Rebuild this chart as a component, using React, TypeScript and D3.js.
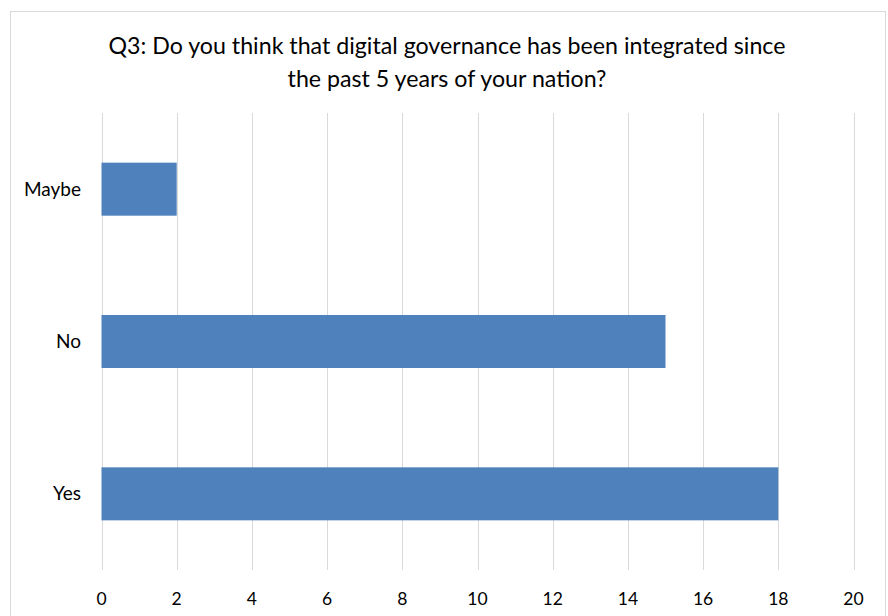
import React from "react";
import * as d3 from "d3";

const categories = ["Maybe", "No", "Yes"];
const values = [2, 15, 18];
const xTicks = [0, 2, 4, 6, 8, 10, 12, 14, 16, 18, 20];
const titleLines = [
  "Q3: Do you think that digital governance has been integrated since",
  "the past 5 years of your nation?",
];

const W = 888;
const H = 616;
const left = 101.5;
const right = 853.5;
const top = 113;
const bottom = 570;
const font = "Lato, 'Open Sans', sans-serif";

export default function App() {
  const x = d3.scaleLinear().domain([0, 20]).range([left, right]);
  const y = d3
    .scaleBand<string>()
    .domain(categories)
    .range([top, bottom])
    .paddingInner(0.652)
    .paddingOuter(0.326);

  return (
    <svg
      width={W}
      height={H}
      style={{ position: "absolute", left: 0, top: 0, background: "#fff" }}
    >
      <rect x={10.5} y={11.5} width={875} height={620} fill="#fff" stroke="#D9D9D9" />
      {titleLines.map((t, i) => (
        <text
          key={i}
          x={447}
          y={54 + i * 33}
          textAnchor="middle"
          fontFamily={font}
          fontSize={23.2}
          fill="#000"
        >
          {t}
        </text>
      ))}
      {xTicks.map((t) => (
        <g key={t}>
          <line
            x1={Math.round(x(t)) + 0.5}
            x2={Math.round(x(t)) + 0.5}
            y1={top}
            y2={bottom}
            stroke="#D9D9D9"
            strokeWidth={1}
          />
          <text
            x={x(t)}
            y={605}
            textAnchor="middle"
            fontFamily={font}
            fontSize={17.5}
            fill="#000"
          >
            {t}
          </text>
        </g>
      ))}
      {categories.map((c, i) => (
        <g key={c}>
          <rect
            x={x(0)}
            y={y(c)!}
            width={x(values[i]) - x(0)}
            height={y.bandwidth()}
            fill="#4F81BD"
          />
          <text
            x={81}
            y={y(c)! + y.bandwidth() / 2 + 6.5}
            textAnchor="end"
            fontFamily={font}
            fontSize={19}
            fill="#000"
          >
            {c}
          </text>
        </g>
      ))}
    </svg>
  );
}
